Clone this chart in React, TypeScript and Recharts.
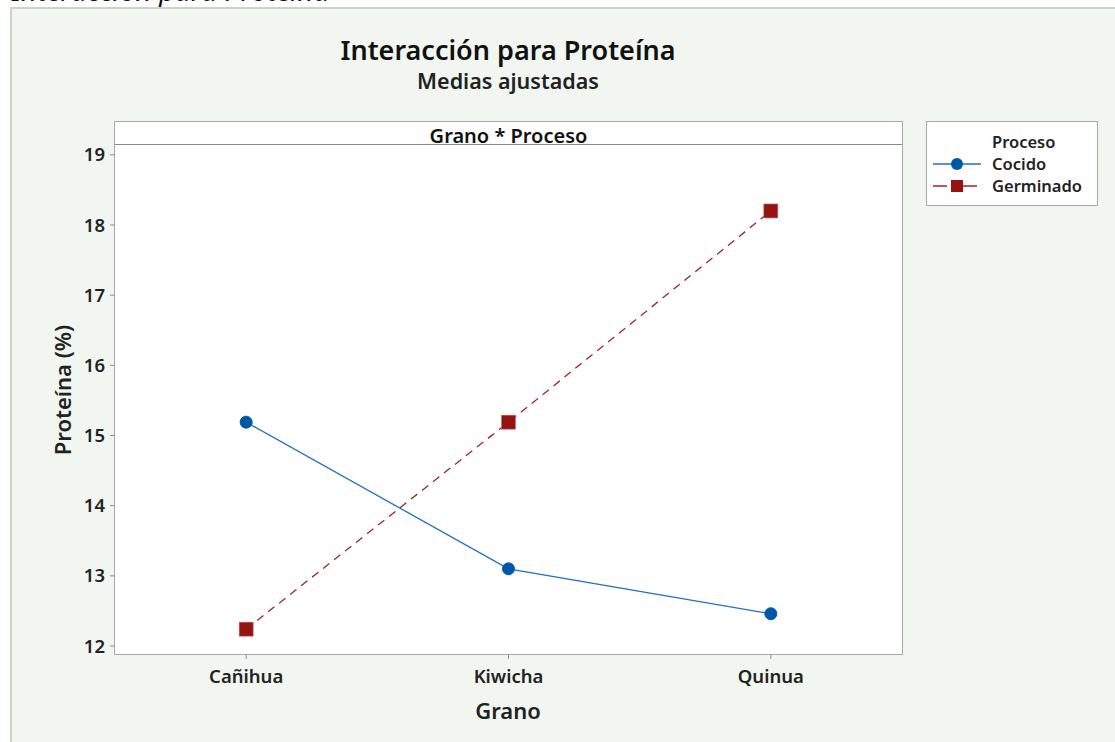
import { ComposedChart, Line, XAxis, YAxis } from 'recharts';

// Medias ajustadas de proteína (%) por grano y proceso
const granos = ['Cañihua', 'Kiwicha', 'Quinua'];
const cocido = [15.19, 13.1, 12.46];
const germinado = [12.24, 15.19, 18.2];
const yTicks = [12, 13, 14, 15, 16, 17, 18, 19];

const data = granos.map((g, i) => ({ grano: g, cocido: cocido[i], germinado: germinado[i] }));

const FONT = '"Noto Sans", "Open Sans", sans-serif';
const BLUE = '#1f6fc6';
const BLUE_DOT = '#0057a8';
const RED = '#a52222';
const RED_SQ = '#961313';

const SquareDot = (props: any) => {
  const { cx, cy } = props;
  if (cx == null || cy == null) return null;
  return <rect x={cx - 7} y={cy - 7} width={14} height={14} fill={RED_SQ} stroke="#c96b6b" strokeWidth={0.6} />;
};

const LegendBox = () => (
  <div
    style={{
      position: 'absolute',
      left: 926,
      top: 121,
      width: 170,
      height: 83,
      background: '#fff',
      border: '1px solid #a8a8a8',
      fontFamily: FONT,
      fontWeight: 600,
      fontSize: 16.5,
      color: '#222',
    }}
  >
    <div style={{ position: 'absolute', left: 65, top: 8 }}>Proceso</div>
    <svg width={60} height={60} style={{ position: 'absolute', left: 0, top: 25 }}>
      <line x1={6} y1={17} x2={54} y2={17} stroke={BLUE} strokeWidth={1.3} />
      <circle cx={30} cy={17} r={6} fill={BLUE_DOT} />
      <line x1={6} y1={39} x2={54} y2={39} stroke={RED} strokeWidth={1.3} strokeDasharray="14 6 4 6" />
      <rect x={24} y={33} width={12} height={12} fill={RED_SQ} />
    </svg>
    <div style={{ position: 'absolute', left: 65, top: 30 }}>Cocido</div>
    <div style={{ position: 'absolute', left: 65, top: 52 }}>Germinado</div>
  </div>
);

export default function App() {
  const tickStyle = { fontSize: 18.5, fontWeight: 600, fill: '#222', fontFamily: FONT };
  return (
    <div style={{ position: 'relative', width: 1115, height: 742, background: '#fff', overflow: 'hidden', fontFamily: FONT }}>
      <style>{'body{margin:0}'}</style>
      <div
        style={{
          position: 'absolute',
          left: 12,
          top: -30,
          fontSize: 28,
          fontStyle: 'italic',
          color: '#111',
          lineHeight: '40px',
        }}
      >
        Interacción para Proteína
      </div>
      <div
        style={{
          position: 'absolute',
          left: 10,
          top: 7,
          right: 0,
          bottom: 0,
          background: '#f1f7f0',
          borderLeft: '2px solid #cfd3cf',
          borderTop: '2px solid #cfd3cf',
        }}
      />
      <div
        style={{
          position: 'absolute',
          left: 0,
          width: 1016,
          top: 33,
          lineHeight: '34px',
          textAlign: 'center',
          fontSize: 27,
          fontWeight: 600,
          color: '#111',
        }}
      >
        Interacción para Proteína
      </div>
      <div
        style={{
          position: 'absolute',
          left: 0,
          width: 1016,
          top: 68,
          lineHeight: '26px',
          textAlign: 'center',
          fontSize: 21.5,
          fontWeight: 600,
          color: '#222',
        }}
      >
        Medias ajustadas
      </div>
      {/* panel del gráfico */}
      <div
        style={{
          position: 'absolute',
          left: 114,
          top: 121,
          width: 787,
          height: 532,
          background: '#fff',
          border: '1px solid #a8a8a8',
        }}
      />
      <div
        style={{
          position: 'absolute',
          left: 115,
          top: 122,
          width: 787,
          height: 22,
          borderBottom: '1px solid #8c8c8c',
          textAlign: 'center',
          fontSize: 20,
          fontWeight: 600,
          color: '#111',
          lineHeight: '28px',
        }}
      >
        Grano * Proceso
      </div>
      <div
        style={{
          position: 'absolute',
          left: 62,
          top: 390,
          transform: 'translate(-50%, -50%) rotate(-90deg)',
          fontSize: 22,
          fontWeight: 600,
          color: '#222',
          whiteSpace: 'nowrap',
        }}
      >
        Proteína (%)
      </div>
      <div style={{ position: 'absolute', left: 0, width: 1016, top: 695, textAlign: 'center', fontSize: 22, fontWeight: 600, color: '#222' }}>
        Grano
      </div>
      <LegendBox />
      <div style={{ position: 'absolute', left: 0, top: 0 }}>
        <ComposedChart width={1115} height={742} data={data} margin={{ top: 145, right: 213, bottom: 58, left: 55 }}>
          <XAxis
            dataKey="grano"
            scale="band"
            height={30}
            axisLine={false}
            tickLine={{ stroke: '#8c8c8c' }}
            tickSize={5}
            tickMargin={11}
            tick={tickStyle}
          />
          <YAxis
            width={60}
            domain={[11.886, 19.14]}
            ticks={yTicks}
            allowDataOverflow
            axisLine={false}
            tickLine={{ stroke: '#8c8c8c' }}
            tickSize={5}
            tickMargin={5}
            tick={tickStyle}
          />
          <Line
            type="linear"
            dataKey="cocido"
            name="Cocido"
            stroke={BLUE}
            strokeWidth={1.3}
            dot={{ r: 6, fill: BLUE_DOT, stroke: BLUE_DOT, strokeWidth: 1 }}
            activeDot={false}
            isAnimationActive={false}
          />
          <Line
            type="linear"
            dataKey="germinado"
            name="Germinado"
            stroke={RED}
            strokeWidth={1.3}
            strokeDasharray="8 6"
            dot={<SquareDot />}
            activeDot={false}
            isAnimationActive={false}
          />
        </ComposedChart>
      </div>
    </div>
  );
}
